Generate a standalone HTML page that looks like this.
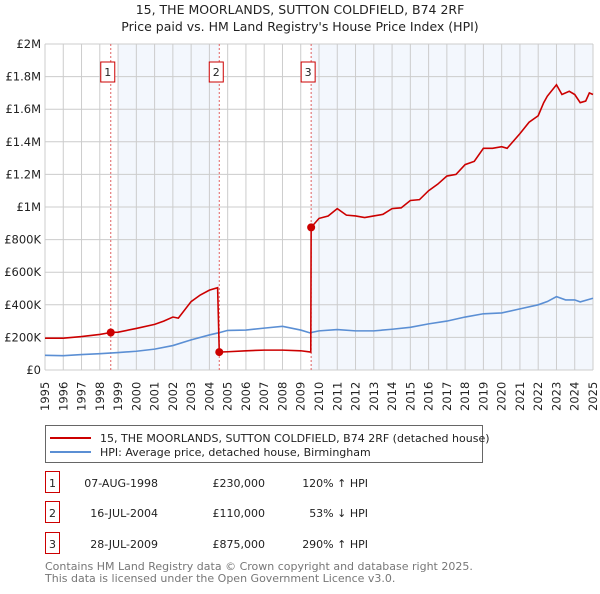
<!DOCTYPE html>
<html><head><meta charset="utf-8"><style>
body{margin:0;background:#fff;font-family:"DejaVu Sans","Liberation Sans",sans-serif;}
svg text{font-family:"DejaVu Sans","Liberation Sans",sans-serif;}
</style></head><body>
<svg width="600" height="590" xmlns="http://www.w3.org/2000/svg">
<g id="g"></g>
</svg>
<script>
const yearTicks=[1995,1996,1997,1998,1999,2000,2001,2002,2003,2004,2005,2006,2007,2008,2009,2010,2011,2012,2013,2014,2015,2016,2017,2018,2019,2020,2021,2022,2023,2024,2025];
const yTicks=[0,200000,400000,600000,800000,1000000,1200000,1400000,1600000,1800000,2000000];
const yTickLabels=["£0","£200K","£400K","£600K","£800K","£1M","£1.2M","£1.4M","£1.6M","£1.8M","£2M"];
const hpiT=[1995,1996,1997,1998,1999,2000,2001,2002,2003,2004,2004.5,2005,2006,2007,2008,2009,2009.5,2010,2011,2012,2013,2014,2015,2016,2017,2018,2019,2020,2021,2022,2022.5,2023,2023.5,2024,2024.3,2025];
const hpiV=[90000,88000,95000,100000,107000,115000,128000,150000,185000,215000,228000,243000,245000,257000,268000,245000,228000,240000,248000,240000,240000,250000,262000,283000,300000,325000,345000,350000,375000,400000,420000,450000,430000,430000,418000,440000];
const redT=[1995,1996,1997,1998,1998.6,1999,2000,2001,2001.5,2002,2002.3,2003,2003.5,2004,2004.45,2004.54,2005,2006,2007,2008,2009,2009.55,2009.57,2010,2010.5,2011,2011.5,2012,2012.5,2013,2013.5,2014,2014.5,2015,2015.5,2016,2016.5,2017,2017.5,2018,2018.5,2019,2019.5,2020,2020.3,2021,2021.5,2022,2022.3,2022.5,2023,2023.3,2023.7,2024,2024.3,2024.6,2024.8,2025];
const redV=[195000,195000,205000,218000,230000,232000,255000,280000,300000,325000,318000,420000,460000,490000,505000,110000,112000,118000,122000,122000,118000,110000,875000,930000,945000,990000,950000,945000,935000,945000,955000,990000,995000,1040000,1045000,1100000,1140000,1190000,1200000,1260000,1280000,1360000,1360000,1370000,1360000,1450000,1520000,1560000,1640000,1680000,1750000,1690000,1710000,1690000,1640000,1650000,1700000,1690000];
const saleT=[1998.6,2004.54,2009.57];
const saleV=[230000,110000,875000];
const saleLabels=["1","2","3"];
const saleDates=["07-AUG-1998","16-JUL-2004","28-JUL-2009"];
const salePrices=["£230,000","£110,000","£875,000"];
const salePct=["120% ↑ HPI","53% ↓ HPI","290% ↑ HPI"];

const X0=45,X1=593,Y0=370,Y1=44;
const xs=t=>X0+(t-1995)/(2025-1995)*(X1-X0);
const ys=v=>Y0-v/2000000*(Y0-Y1);
const g=document.getElementById('g');
const NS="http://www.w3.org/2000/svg";
function mk(tag,at,txt){const e=document.createElementNS(NS,tag);for(const k in at)e.setAttribute(k,at[k]);if(txt!==undefined)e.textContent=txt;g.appendChild(e);return e;}

let e;
e=mk('text',{x:300,y:14,'text-anchor':'middle','font-size':12.5,fill:'#222'},"15, THE MOORLANDS, SUTTON COLDFIELD, B74 2RF");


e=mk('text',{x:300,y:31,'text-anchor':'middle','font-size':12.5,fill:'#222'},"Price paid vs. HM Land Registry's House Price Index (HPI)");



e=mk('rect',{x:xs(1999),y:Y1,width:xs(saleT[1])-xs(1999),height:Y0-Y1,fill:'#eef3fc',opacity:0.7});


e=mk('rect',{x:xs(saleT[2]),y:Y1,width:X1-xs(saleT[2]),height:Y0-Y1,fill:'#eef3fc',opacity:0.7});



yearTicks.forEach(t=>{
  e=mk('line',{x1:xs(t),x2:xs(t),y1:Y1,y2:Y0,stroke:'#ccc','stroke-width':1});
  
  
  e=mk('text',{x:0,y:0,transform:`translate(${xs(t)+4},${Y0+41}) rotate(-90)`,'font-size':11.5,fill:'#222'},String(t));
  
  
});
yTicks.forEach((v,i)=>{
  e=mk('line',{x1:X0,x2:X1,y1:ys(v),y2:ys(v),stroke:'#ccc','stroke-width':1});
  
  
  e=mk('text',{x:X0-4,y:ys(v)+4,'text-anchor':'end','font-size':11.5,fill:'#222'},yTickLabels[i]);
  
  
});

saleT.forEach((t,i)=>{
  e=mk('line',{x1:xs(t),x2:xs(t),y1:Y1,y2:Y0,stroke:'#e06060','stroke-width':1,'stroke-dasharray':'2,2'});
  
  
  e=mk('rect',{x:xs(t)-10,y:62,width:14,height:20,fill:'#fff',stroke:'#c00','stroke-width':1});
  
  
  e=mk('text',{x:xs(t)-3,y:76,'text-anchor':'middle','font-size':11,fill:'#222'},saleLabels[i]);
  
  
});

e=mk('polyline',{points:hpiT.map((t,i)=>xs(t)+','+ys(hpiV[i])).join(' '),fill:'none',stroke:'#5b8fd4','stroke-width':1.6});


e=mk('polyline',{points:redT.map((t,i)=>xs(t)+','+ys(redV[i])).join(' '),fill:'none',stroke:'#cc0000','stroke-width':1.6});


saleT.forEach((t,i)=>{
  e=mk('circle',{cx:xs(t),cy:ys(saleV[i]),r:4,fill:'#cc0000'});
  
  
});

e=mk('rect',{x:45.5,y:425.5,width:437,height:37,fill:'#fff',stroke:'#666'});


e=mk('line',{x1:50,x2:91,y1:438,y2:438,stroke:'#cc0000','stroke-width':2});


e=mk('text',{x:100,y:442,'font-size':11,fill:'#222'},"15, THE MOORLANDS, SUTTON COLDFIELD, B74 2RF (detached house)");


e=mk('line',{x1:50,x2:91,y1:452,y2:452,stroke:'#5b8fd4','stroke-width':2});


e=mk('text',{x:100,y:456,'font-size':11,fill:'#222'},"HPI: Average price, detached house, Birmingham");



const rowY=[483,513,544];
saleLabels.forEach((l,i)=>{
  const y=rowY[i];
  e=mk('rect',{x:45.5,y:y-11.5,width:14,height:21,fill:'#fff',stroke:'#c00'});
  
  
  e=mk('text',{x:52.5,y:y+4,'text-anchor':'middle','font-size':11,fill:'#222'},l);
  
  
  e=mk('text',{x:158,y:y+4,'text-anchor':'end','font-size':11,fill:'#222'},saleDates[i]);
  
  
  e=mk('text',{x:265,y:y+4,'text-anchor':'end','font-size':11,fill:'#222'},salePrices[i]);
  
  
  e=mk('text',{x:368,y:y+4,'text-anchor':'end','font-size':11,fill:'#222'},salePct[i]);
  
  
});
e=mk('text',{x:45,y:570,'font-size':11,fill:'#777'},"Contains HM Land Registry data © Crown copyright and database right 2025.");


e=mk('text',{x:45,y:582,'font-size':11,fill:'#777'},"This data is licensed under the Open Government Licence v3.0.");


</script>
</body></html>
